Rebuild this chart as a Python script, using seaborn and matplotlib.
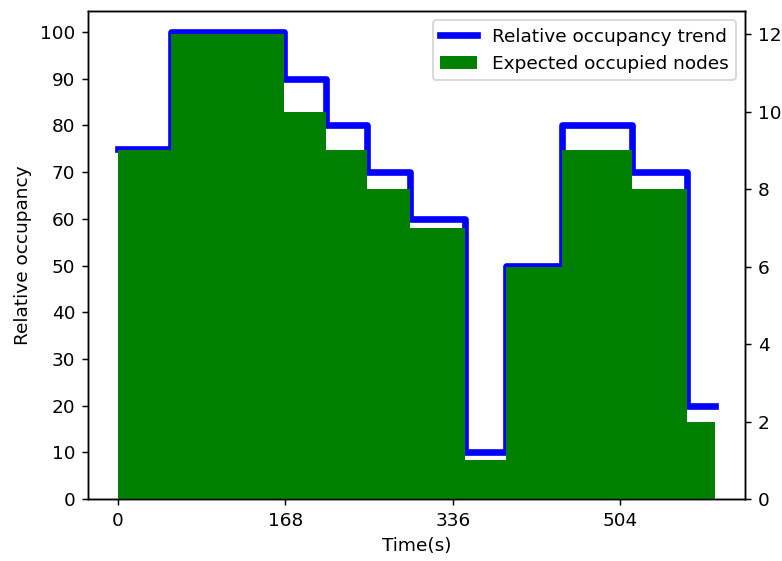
import matplotlib
matplotlib.use("Agg")
import matplotlib.pyplot as plt
from matplotlib.lines import Line2D
from matplotlib.patches import Patch
import numpy as np
import pandas as pd
import seaborn as sns

# Data
time_edges = [0, 53, 167, 209, 250, 293, 348, 389, 445, 516, 571, 599]
relative_occupancy = [75, 100, 90, 80, 70, 60, 10, 50, 80, 70, 20]
expected_nodes = [9, 12, 10, 9, 8, 7, 1, 6, 9, 8, 2]
x_ticks = [0, 168, 336, 504]
right_ticks = [0, 2, 4, 6, 8, 10, 12]

line_df = pd.DataFrame({
    "time": time_edges,
    "occ": relative_occupancy + [relative_occupancy[-1]],
})
centers = [(a + b) / 2 for a, b in zip(time_edges[:-1], time_edges[1:])]
bar_df = pd.DataFrame({"time": centers, "nodes": expected_nodes})

DPI = 133
LW = 3.6
fig = plt.figure(figsize=(782 / DPI, 561 / DPI), dpi=DPI)
ax = fig.add_axes([88 / 782, 1 - 499 / 561, (745 - 88) / 782, (499 - 11) / 561])

sns.lineplot(data=line_df, x="time", y="occ", ax=ax, color="blue",
             linewidth=LW, drawstyle="steps-post", sort=False,
             solid_capstyle="projecting")
ax.set_ylim(bottom=0)
ax.set_ylabel("Relative occupancy")
ax.set_xlabel("Time(s)")
ax.set_yticks(range(0, 101, 10))

ax2 = ax.twinx()
sns.histplot(data=bar_df, x="time", weights="nodes", bins=time_edges,
             ax=ax2, color="green", alpha=1, linewidth=0, edgecolor="none")
ax2.set_ylim(0, 12.6)
ax2.set_yticks(right_ticks)
ax2.set_ylabel("")
ax.set_xticks(x_ticks)
ax.set_xlim(-29.95, 628.95)

handles = [Line2D([0], [0], color="blue", linewidth=LW),
           Patch(facecolor="green")]
ax2.legend(handles, ["Relative occupancy trend", "Expected occupied nodes"],
           loc="upper right")

fig.savefig("out.png", dpi=DPI)
